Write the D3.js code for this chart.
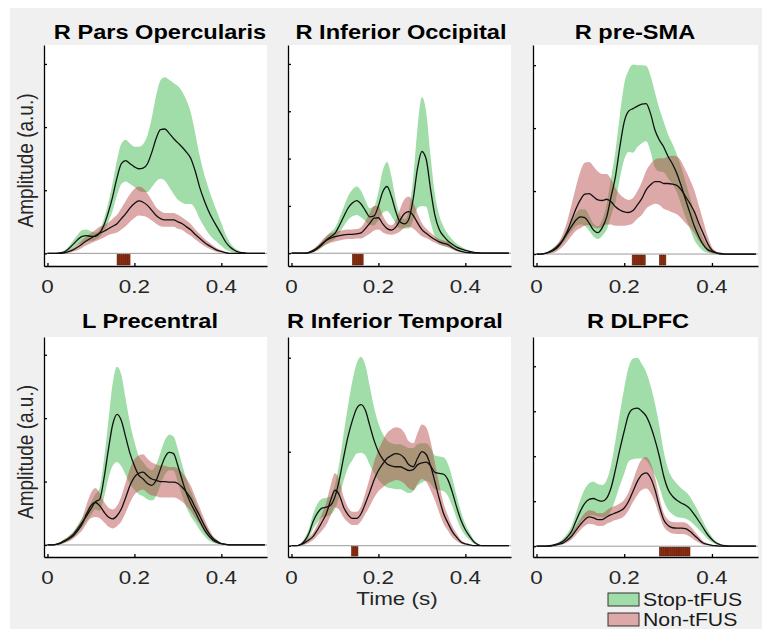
<!DOCTYPE html>
<html>
<head>
<meta charset="utf-8">
<script src="https://cdn.jsdelivr.net/npm/d3@7"></script>
<style>
body { margin: 0; background: #fff; }
svg { display: block; }
text { font-family: "Liberation Sans", Arial, Helvetica, sans-serif; }
</style>
</head>
<body>
<script>
const width = 762;
const height = 629;

// time grid (s)
const time = [0,0.01,0.02,0.03,0.04,0.05,0.06,0.07,0.08,0.09,
  0.1,0.11,0.12,0.13,0.14,0.15,0.16,0.17,0.18,0.19,
  0.2,0.21,0.22,0.23,0.24,0.25,0.26,0.27,0.28,0.29,
  0.3,0.31,0.32,0.33,0.34,0.35,0.36,0.37,0.38,0.39,
  0.4,0.41,0.42,0.43,0.44,0.45,0.46,0.47,0.48,0.49,0.5];

const titles = ['R Pars Opercularis', 'R Inferior Occipital', 'R pre-SMA',
  'L Precentral', 'R Inferior Temporal', 'R DLPFC'];
const xTicks = [0, 0.2, 0.4];
const xTickLabels = ['0', '0.2', '0.4'];
const legendLabels = ['Stop-tFUS', 'Non-tFUS'];

// R Pars Opercularis
const parsOpStopMean = [0,0,0,0.01,0.03,0.08,0.15,0.22,0.27,0.28, 0.27,0.27,0.32,0.45,0.65,0.9,1.2,1.42,1.47,1.42, 1.37,1.34,1.35,1.42,1.6,1.82,1.96,1.97,1.9,1.82, 1.75,1.68,1.6,1.5,1.3,1.05,0.85,0.68,0.54,0.42, 0.3,0.18,0.1,0.05,0.02,0.01,0,0,0,0, 0];
const parsOpStopSem = [0,0,0,0,0.02,0.04,0.06,0.08,0.1,0.1, 0.08,0.06,0.06,0.1,0.15,0.22,0.28,0.32,0.33,0.32, 0.32,0.35,0.38,0.45,0.55,0.68,0.78,0.82,0.85,0.88, 0.9,0.88,0.82,0.72,0.6,0.5,0.42,0.36,0.3,0.24, 0.18,0.12,0.07,0.04,0.02,0,0,0,0,0, 0];
const parsOpNonMean = [0,0,0,0,0.01,0.03,0.06,0.1,0.15,0.2, 0.24,0.28,0.32,0.35,0.39,0.43,0.47,0.55,0.63,0.72, 0.79,0.83,0.81,0.76,0.68,0.6,0.55,0.53,0.53,0.53, 0.5,0.47,0.42,0.37,0.3,0.24,0.18,0.13,0.09,0.05, 0.03,0.01,0,0,0,0,0,0,0,0, 0];
const parsOpNonSem = [0,0,0,0,0,0.02,0.03,0.05,0.06,0.07, 0.08,0.09,0.1,0.1,0.1,0.12,0.14,0.17,0.2,0.22, 0.23,0.23,0.22,0.19,0.16,0.13,0.12,0.11,0.11,0.11, 0.11,0.1,0.1,0.09,0.08,0.07,0.06,0.05,0.04,0.03, 0.02,0.01,0,0,0,0,0,0,0,0, 0];
const parsOpSig = [0.16,0.165,0.17,0.175,0.18,0.185];

// R Inferior Occipital
const infOccStopMean = [0,0,0,0,0.01,0.04,0.1,0.18,0.28,0.35, 0.42,0.58,0.77,0.95,1.06,1.11,1.04,0.9,0.77,0.79, 1.0,1.3,1.41,1.2,0.88,0.66,0.62,0.72,1.15,1.8, 2.15,1.98,1.35,0.8,0.5,0.36,0.26,0.19,0.13,0.09, 0.06,0.04,0.02,0.01,0,0,0,0,0,0, 0];
const infOccStopSem = [0,0,0,0,0,0.02,0.04,0.06,0.08,0.1, 0.12,0.16,0.2,0.25,0.28,0.3,0.28,0.22,0.18,0.2, 0.3,0.45,0.52,0.42,0.25,0.14,0.1,0.2,0.45,0.85, 1.15,1.0,0.7,0.45,0.3,0.2,0.14,0.1,0.07,0.05, 0.03,0.02,0.01,0,0,0,0,0,0,0, 0];
const infOccNonMean = [0,0,0,0,0.02,0.06,0.12,0.2,0.27,0.32, 0.35,0.37,0.39,0.4,0.4,0.41,0.43,0.52,0.63,0.74, 0.75,0.62,0.52,0.49,0.55,0.7,0.84,0.88,0.8,0.64, 0.5,0.42,0.35,0.29,0.24,0.21,0.18,0.12,0.07,0.04, 0.02,0.01,0,0,0,0,0,0,0,0, 0];
const infOccNonSem = [0,0,0,0,0.01,0.03,0.05,0.07,0.09,0.1, 0.1,0.1,0.1,0.1,0.1,0.1,0.12,0.16,0.22,0.26, 0.25,0.18,0.12,0.1,0.14,0.24,0.3,0.32,0.28,0.2, 0.14,0.1,0.08,0.07,0.06,0.06,0.05,0.04,0.03,0.02, 0.01,0,0,0,0,0,0,0,0,0, 0];
const infOccSig = [0.14,0.145,0.15,0.155,0.16];

// R pre-SMA
const preSmaStopMean = [0,0,0.01,0.04,0.08,0.14,0.22,0.33,0.44,0.54, 0.59,0.58,0.49,0.38,0.34,0.42,0.59,0.91,1.23,1.7, 2.1,2.27,2.31,2.35,2.38,2.39,2.23,1.97,1.81,1.7, 1.55,1.43,1.28,1.08,0.86,0.65,0.44,0.28,0.15,0.07, 0.04,0.02,0.01,0,0,0,0,0,0,0, 0];
const preSmaStopSem = [0,0,0,0.02,0.03,0.04,0.05,0.06,0.08,0.1, 0.12,0.13,0.12,0.1,0.1,0.13,0.2,0.3,0.4,0.5, 0.6,0.65,0.7,0.65,0.62,0.6,0.6,0.6,0.5,0.4, 0.35,0.32,0.3,0.3,0.28,0.25,0.22,0.16,0.1,0.05, 0.03,0.01,0,0,0,0,0,0,0,0, 0];
const preSmaNonMean = [0,0,0.01,0.03,0.06,0.12,0.22,0.36,0.54,0.72, 0.86,0.95,0.96,0.91,0.86,0.85,0.87,0.83,0.75,0.7, 0.67,0.66,0.69,0.78,0.88,1.02,1.1,1.15,1.15,1.12, 1.12,1.11,1.09,1.02,0.91,0.8,0.67,0.49,0.33,0.17, 0.06,0.02,0,0,0,0,0,0,0,0, 0];
const preSmaNonSem = [0,0,0.01,0.02,0.04,0.06,0.1,0.16,0.25,0.35, 0.45,0.5,0.5,0.48,0.45,0.42,0.4,0.36,0.3,0.25, 0.22,0.2,0.2,0.22,0.26,0.3,0.33,0.35,0.37,0.4, 0.43,0.45,0.46,0.45,0.42,0.38,0.34,0.28,0.2,0.12, 0.05,0.02,0,0,0,0,0,0,0,0, 0];
const preSmaSig = [0.218,0.223,0.228,0.233,0.238,0.243, 0.28,0.285,0.29];

// L Precentral
const precStopMean = [0,0,0.01,0.03,0.07,0.11,0.17,0.26,0.36,0.46, 0.57,0.68,0.72,1.05,1.5,1.9,2.06,1.96,1.7,1.44, 1.25,1.1,1.04,0.97,0.94,1.02,1.2,1.38,1.46,1.44, 1.25,1.02,0.81,0.65,0.52,0.38,0.25,0.15,0.08,0.04, 0.02,0.01,0,0,0,0,0,0,0,0, 0];
const precStopSem = [0,0,0.01,0.02,0.03,0.04,0.05,0.06,0.07,0.08, 0.1,0.12,0.18,0.3,0.45,0.65,0.75,0.72,0.6,0.48, 0.38,0.3,0.27,0.25,0.24,0.25,0.26,0.27,0.28,0.27, 0.26,0.24,0.22,0.2,0.17,0.14,0.1,0.07,0.04,0.02, 0.01,0,0,0,0,0,0,0,0,0, 0];
const precNonMean = [0,0,0.01,0.03,0.06,0.1,0.15,0.23,0.33,0.49, 0.62,0.67,0.62,0.52,0.44,0.41,0.46,0.57,0.75,0.94, 1.07,1.13,1.15,1.09,1.04,1.02,1.0,1.0,0.99,0.99, 0.97,0.91,0.83,0.73,0.59,0.46,0.32,0.2,0.11,0.06, 0.02,0.01,0,0,0,0,0,0,0,0, 0];
const precNonSem = [0,0,0.01,0.02,0.03,0.04,0.05,0.07,0.1,0.15, 0.2,0.23,0.2,0.16,0.15,0.15,0.16,0.2,0.24,0.27, 0.28,0.28,0.28,0.27,0.26,0.25,0.25,0.25,0.24,0.24, 0.24,0.23,0.22,0.2,0.17,0.13,0.1,0.07,0.04,0.02, 0.01,0,0,0,0,0,0,0,0,0, 0];
const precSig = [];

// R Inferior Temporal
const infTempStopMean = [0,0,0.01,0.05,0.13,0.26,0.35,0.4,0.41,0.43, 0.52,0.7,0.94,1.16,1.33,1.46,1.5,1.44,1.28,1.12, 1.0,0.92,0.87,0.85,0.84,0.84,0.82,0.8,0.81,0.86, 0.88,0.89,0.85,0.78,0.77,0.76,0.7,0.57,0.41,0.27, 0.17,0.1,0.04,0.01,0,0,0,0,0,0, 0];
const infTempStopSem = [0,0,0.01,0.03,0.05,0.08,0.1,0.1,0.1,0.1, 0.13,0.18,0.25,0.33,0.42,0.48,0.51,0.48,0.42,0.35, 0.3,0.27,0.25,0.24,0.24,0.24,0.24,0.24,0.23,0.22, 0.21,0.2,0.19,0.18,0.18,0.18,0.17,0.15,0.12,0.09, 0.06,0.04,0.02,0.01,0,0,0,0,0,0, 0];
const infTempNonMean = [0,0,0.01,0.03,0.06,0.1,0.17,0.25,0.34,0.48, 0.59,0.54,0.41,0.33,0.29,0.29,0.34,0.45,0.57,0.7, 0.8,0.87,0.93,0.96,0.98,0.97,0.93,0.86,0.84,0.93, 1.0,0.97,0.85,0.68,0.5,0.34,0.24,0.15,0.09,0.04, 0.02,0.01,0,0,0,0,0,0,0,0, 0];
const infTempNonSem = [0,0,0.01,0.02,0.03,0.04,0.06,0.09,0.12,0.16, 0.18,0.16,0.11,0.08,0.07,0.07,0.08,0.11,0.15,0.19, 0.22,0.25,0.27,0.28,0.28,0.28,0.27,0.25,0.25,0.27, 0.29,0.29,0.26,0.2,0.15,0.11,0.08,0.06,0.04,0.02, 0.01,0,0,0,0,0,0,0,0,0, 0];
const infTempSig = [0.138,0.143,0.148];

// R DLPFC
const dlpfcStopMean = [0,0,0,0.01,0.03,0.06,0.11,0.2,0.33,0.56, 0.78,0.95,1.04,1.06,1.02,1.0,1.07,1.3,1.7,2.15, 2.56,2.93,3.05,3.07,3.0,2.89,2.67,2.37,2.0,1.56, 1.26,1.11,1.02,0.96,0.91,0.83,0.7,0.56,0.41,0.26, 0.15,0.07,0.03,0.01,0,0,0,0,0,0, 0];
const dlpfcStopSem = [0,0,0,0.01,0.02,0.03,0.05,0.08,0.12,0.18, 0.25,0.32,0.36,0.37,0.36,0.36,0.4,0.5,0.65,0.8, 0.95,1.05,1.12,1.12,1.05,0.98,0.9,0.8,0.68,0.55, 0.45,0.4,0.37,0.33,0.3,0.27,0.23,0.19,0.14,0.1, 0.06,0.03,0.01,0,0,0,0,0,0,0, 0];
const dlpfcNonMean = [0,0,0,0,0.02,0.04,0.07,0.13,0.22,0.35, 0.48,0.59,0.65,0.63,0.59,0.59,0.65,0.7,0.74,0.78, 0.85,1.0,1.22,1.44,1.59,1.63,1.52,1.26,0.89,0.59, 0.46,0.41,0.4,0.4,0.39,0.33,0.24,0.15,0.07,0.04, 0.02,0.01,0,0,0,0,0,0,0,0, 0];
const dlpfcNonSem = [0,0,0,0,0.01,0.02,0.03,0.05,0.07,0.1, 0.12,0.14,0.15,0.15,0.14,0.14,0.15,0.16,0.16,0.17, 0.18,0.2,0.24,0.3,0.34,0.35,0.33,0.28,0.2,0.15, 0.13,0.13,0.13,0.13,0.13,0.12,0.1,0.07,0.04,0.02, 0.01,0,0,0,0,0,0,0,0,0, 0];
const dlpfcSig = [0.28,0.285,0.29,0.295,0.3,0.305,0.31,0.315,0.32,0.325,0.33,0.335,0.34,0.345];

// y ranges of each panel (a.u.)
const yRanges = [[-0.2, 3.3], [-0.27, 4.4], [-0.19, 3.32], [-0.19, 3.28], [-0.12, 2.22], [-0.24, 4.65]];

const panelData = [
  { stop: [parsOpStopMean, parsOpStopSem], non: [parsOpNonMean, parsOpNonSem], sig: parsOpSig },
  { stop: [infOccStopMean, infOccStopSem], non: [infOccNonMean, infOccNonSem], sig: infOccSig },
  { stop: [preSmaStopMean, preSmaStopSem], non: [preSmaNonMean, preSmaNonSem], sig: preSmaSig },
  { stop: [precStopMean, precStopSem], non: [precNonMean, precNonSem], sig: precSig },
  { stop: [infTempStopMean, infTempStopSem], non: [infTempNonMean, infTempNonSem], sig: infTempSig },
  { stop: [dlpfcStopMean, dlpfcStopSem], non: [dlpfcNonMean, dlpfcNonSem], sig: dlpfcSig }
];

// layout
const cols = [[44, 267], [288, 511], [533, 758]];
const rows = [[45, 266], [337, 557]];
const titleX = [160, 401, 635, 150, 395, 638];
const titleY = [39, 328];
const sx = 1.18; // the figure is stretched horizontally
const stopFill = '#33b541';
const nonFill = '#b54141';
const bandOpacity = 0.46;

const svg = d3.select('body').append('svg')
    .attr('width', width)
    .attr('height', height);

svg.append('rect').attr('width', width).attr('height', height).attr('fill', '#fff');
svg.append('rect').attr('x', 10).attr('y', 8).attr('width', width - 10).attr('height', height - 8).attr('fill', '#f0f0f0');

function stretchedText(g, x, y, txt) {
    return g.append('text')
        .attr('transform', `translate(${x},${y}) scale(${sx},1)`)
        .text(txt);
}

panelData.forEach((p, i) => {
    const col = cols[i % 3];
    const row = rows[Math.floor(i / 3)];
    const g = svg.append('g');

    const x = d3.scaleLinear().domain([-0.008, 0.505]).range(col);
    const y = d3.scaleLinear().domain(yRanges[i]).range([row[1], row[0]]);

    g.append('rect')
        .attr('x', col[0]).attr('y', row[0])
        .attr('width', col[1] - col[0]).attr('height', row[1] - row[0])
        .attr('fill', '#fff');

    const series = [
        { mean: p.stop[0], sem: p.stop[1], fill: stopFill },
        { mean: p.non[0], sem: p.non[1], fill: nonFill }
    ];

    const area = d3.area()
        .x((d, k) => x(time[k]))
        .y0(d => y(Math.max(0, d.m - d.s)))
        .y1(d => y(d.m + d.s))
        .curve(d3.curveMonotoneX);

    series.forEach(s => {
        const pts = s.mean.map((m, k) => ({ m: m, s: s.sem[k] }));
        g.append('path')
            .datum(pts)
            .attr('d', area)
            .attr('fill', s.fill)
            .attr('fill-opacity', bandOpacity);
    });

    // zero line
    g.append('line')
        .attr('x1', col[0]).attr('x2', col[1])
        .attr('y1', y(0)).attr('y2', y(0))
        .attr('stroke', '#9a9a9a').attr('stroke-width', 1);

    const line = d3.line()
        .x((d, k) => x(time[k]))
        .y(d => y(d))
        .curve(d3.curveMonotoneX);

    series.forEach(s => {
        g.append('path')
            .datum(s.mean)
            .attr('d', line)
            .attr('fill', 'none')
            .attr('stroke', '#111')
            .attr('stroke-width', 1.3);
    });

    // significance marks
    const segW = x(0.005) - x(0);
    g.selectAll('rect.sig')
        .data(p.sig)
        .enter().append('rect')
        .attr('class', 'sig')
        .attr('x', d => x(d))
        .attr('y', y(0) + 1)
        .attr('width', segW)
        .attr('height', row[1] - y(0) - 2)
        .attr('fill', '#8c2c0e')
        .attr('stroke', '#5e1b06')
        .attr('stroke-width', 0.5);

    // axes
    const nTicks = Math.floor(yRanges[i][1]);
    g.append('g')
        .attr('transform', `translate(${col[0]},0)`)
        .call(d3.axisLeft(y).tickValues(d3.range(0, nTicks + 1)).tickSizeInner(-3).tickSizeOuter(0).tickFormat(''))
        .call(a => a.selectAll('line,path').attr('stroke', '#000').attr('stroke-width', 1.3));

    g.append('g')
        .attr('transform', `translate(0,${row[1]})`)
        .call(d3.axisBottom(x).tickValues(xTicks).tickSizeInner(-3).tickSizeOuter(0).tickFormat(''))
        .call(a => a.selectAll('line,path').attr('stroke', '#000').attr('stroke-width', 1.3));

    xTicks.forEach((t, k) => {
        stretchedText(g, x(t), row[1] + 27, xTickLabels[k])
            .attr('text-anchor', 'middle')
            .attr('font-size', 19)
            .attr('fill', '#262626');
    });

    stretchedText(g, titleX[i], titleY[Math.floor(i / 3)], titles[i])
        .attr('text-anchor', 'middle')
        .attr('font-size', 20)
        .attr('font-weight', 'bold')
        .attr('fill', '#000');

    if (i % 3 === 0) {
        const cy = (row[0] + row[1]) / 2 + 5;
        g.append('text')
            .attr('transform', `translate(33,${cy}) scale(${sx},1) rotate(-90)`)
            .attr('text-anchor', 'middle')
            .attr('font-size', 19)
            .attr('fill', '#262626')
            .text('Amplitude (a.u.)');
    }
});

// x label
stretchedText(svg, 397, 605, 'Time (s)')
    .attr('text-anchor', 'middle')
    .attr('font-size', 19)
    .attr('fill', '#262626');

// legend
const legend = svg.append('g');
[stopFill, nonFill].forEach((c, k) => {
    legend.append('rect')
        .attr('x', 608).attr('y', 593 + k * 20)
        .attr('width', 31).attr('height', 13)
        .attr('fill', d3.interpolateRgb('#fff', c)(bandOpacity))
        .attr('stroke', '#333').attr('stroke-width', 1);
    stretchedText(legend, 643, 606 + k * 20, legendLabels[k])
        .attr('font-size', 18)
        .attr('fill', '#1a1a1a');
});
</script>
</body>
</html>
